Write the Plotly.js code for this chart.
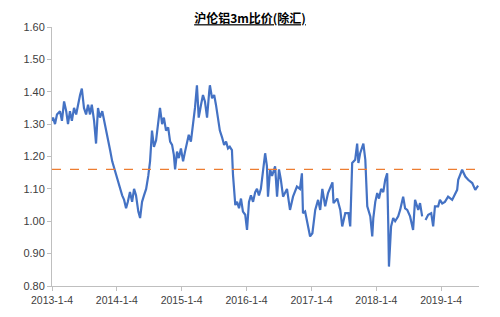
<!DOCTYPE html>
<html>
<head>
<meta charset="utf-8">
<script src="https://cdn.plot.ly/plotly-3.0.1.min.js"></script>
<style>html,body{margin:0;padding:0;background:#fff;}#chart{width:500px;height:317px;}</style>
</head>
<body>
<div id="chart"></div>
<script>
var dates = [
"2013-01-04","2013-01-10","2013-01-21","2013-02-01","2013-02-18","2013-03-01","2013-03-13","2013-03-25","2013-04-04","2013-04-15",
"2013-04-26","2013-05-08","2013-05-20","2013-05-30","2013-06-11","2013-06-21","2013-07-03","2013-07-15","2013-07-26","2013-08-06",
"2013-08-16","2013-08-29","2013-09-09","2013-09-20","2013-10-01","2013-10-14","2013-10-24","2013-11-04","2013-11-15","2013-11-27",
"2013-12-09","2013-12-19","2013-12-31","2014-01-10","2014-01-22","2014-02-03","2014-02-14","2014-02-25","2014-03-07","2014-03-19",
"2014-03-31","2014-04-11","2014-04-22","2014-05-05","2014-05-15","2014-05-26","2014-06-06","2014-06-18","2014-06-30","2014-07-10",
"2014-07-21","2014-08-01","2014-08-13","2014-08-25","2014-09-04","2014-09-16","2014-09-26","2014-10-08","2014-10-20","2014-10-31",
"2014-11-11","2014-11-21","2014-11-28","2014-12-09","2014-12-19","2014-12-31","2015-01-12","2015-01-23","2015-02-03","2015-02-13",
"2015-02-25","2015-03-09","2015-03-20","2015-03-31","2015-04-10","2015-04-23","2015-05-04","2015-05-15","2015-05-27","2015-06-08",
"2015-06-12","2015-06-24","2015-07-06","2015-07-16","2015-07-28","2015-08-07","2015-08-19","2015-08-31","2015-09-11","2015-09-22",
"2015-10-02","2015-10-14","2015-10-20","2015-11-02","2015-11-12","2015-11-23","2015-12-04","2015-12-15","2015-12-28","2016-01-07",
"2016-01-18","2016-01-29","2016-02-10","2016-02-22","2016-03-03","2016-03-14","2016-03-25","2016-04-06","2016-04-18","2016-04-28",
"2016-05-04","2016-05-16","2016-05-27","2016-06-13","2016-06-24","2016-07-05","2016-07-15","2016-07-28","2016-08-08","2016-08-19",
"2016-09-05","2016-09-22","2016-10-14","2016-10-31","2016-11-11","2016-11-17","2016-11-29","2016-12-09","2016-12-27","2017-01-09",
"2017-01-25","2017-02-10","2017-02-22","2017-03-06","2017-03-22","2017-04-07","2017-05-02","2017-05-08","2017-05-29","2017-06-15",
"2017-06-26","2017-07-13","2017-07-31","2017-08-10","2017-08-21","2017-09-07","2017-09-18","2017-09-25","2017-10-05","2017-10-17",
"2017-10-23","2017-11-03","2017-11-08","2017-11-14","2017-12-01","2017-12-12","2017-12-18","2017-12-29","2018-01-09","2018-01-19",
"2018-01-31","2018-02-12","2018-02-23","2018-03-06","2018-03-12","2018-03-16","2018-03-28","2018-04-09","2018-04-20","2018-05-07",
"2018-05-18","2018-06-04","2018-06-15","2018-06-27","2018-07-13","2018-07-30","2018-08-10","2018-08-28","2018-09-07","2018-09-19",
"2018-09-28","2018-10-08","2018-10-23","2018-11-09","2018-11-20","2018-11-30","2018-12-18","2018-12-28","2019-01-10","2019-01-25",
"2019-02-12","2019-03-07","2019-03-25","2019-04-04","2019-04-10","2019-05-02","2019-05-20","2019-06-05","2019-06-28","2019-07-15",
"2019-07-31"
];
var ratio = [
1.31,1.32,1.30,1.33,1.34,1.31,1.37,1.34,1.30,1.34,
1.31,1.35,1.33,1.36,1.39,1.41,1.35,1.33,1.36,1.33,
1.36,1.31,1.24,1.35,1.32,1.34,1.31,1.28,1.25,1.22,
1.185,1.165,1.143,1.12,1.10,1.08,1.066,1.04,1.06,1.09,
1.06,1.10,1.08,1.03,1.01,1.06,1.08,1.10,1.14,1.185,
1.28,1.23,1.25,1.30,1.35,1.30,1.32,1.28,1.29,1.246,
1.236,1.205,1.16,1.215,1.195,1.225,1.185,1.215,1.246,1.267,
1.246,1.298,1.35,1.42,1.32,1.36,1.39,1.37,1.32,1.40,
1.42,1.38,1.39,1.36,1.32,1.28,1.26,1.236,1.246,1.225,
1.23,1.22,1.143,1.05,1.06,1.04,1.07,1.03,1.02,0.973,
1.06,1.08,1.06,1.09,1.10,1.08,1.10,1.15,1.21,1.17,
1.076,1.16,1.14,1.17,1.076,1.16,1.13,1.076,1.09,1.10,
1.035,1.076,1.107,1.10,1.148,1.025,1.03,1.004,0.953,0.963,
1.035,1.066,1.035,1.10,1.046,1.087,1.12,1.056,1.07,1.035,
0.984,1.025,1.025,0.984,1.18,1.19,1.24,1.18,1.21,1.23,
1.24,1.19,1.10,1.046,1.015,0.953,1.01,1.06,1.087,1.07,
1.10,1.09,1.128,1.148,0.994,0.86,0.984,1.01,1.00,1.015,
1.035,1.076,1.04,1.035,1.015,0.973,1.066,1.035,1.056,1.015,
null,1.004,1.02,1.025,0.984,1.046,1.046,1.066,1.055,1.06,
1.076,1.066,1.087,1.097,1.128,1.159,1.138,1.128,1.118,1.097,
1.11
];
var avgLevel = [1.16];
var tickDates = ["2013-01-04","2014-01-04","2015-01-04","2016-01-04","2017-01-04","2018-01-04","2019-01-04"];
var tickLabels = ["2013-1-4","2014-1-4","2015-1-4","2016-1-4","2017-1-4","2018-1-4","2019-1-4"];
var titleText = "沪伦铝3m比价(除汇)";

var traces = [{
  x: dates, y: ratio, type: "scatter", mode: "lines",
  line: {color: "#4472C4", width: 2.2},
  connectgaps: false, hoverinfo: "skip"
}];

var layout = {
  width: 500, height: 317,
  margin: {l: 52, r: 21, t: 27, b: 31},
  paper_bgcolor: "#ffffff", plot_bgcolor: "#ffffff",
  showlegend: false,
  font: {family: "Liberation Sans, Arial, sans-serif", color: "#404040", size: 11},
  title: {
    text: "<b><u>" + titleText + "</u></b>",
    x: 0.5, xanchor: "center", y: 0.94, yanchor: "middle",
    font: {family: "Noto Sans CJK SC, sans-serif", size: 12, color: "#000000"}
  },
  xaxis: {
    type: "date",
    range: ["2013-01-04", "2019-08-05"],
    tickmode: "array", tickvals: tickDates, ticktext: tickLabels,
    showgrid: false, zeroline: false,
    showline: true, linecolor: "#bfbfbf", linewidth: 1,
    ticks: "outside", ticklen: 4, tickcolor: "#bfbfbf",
    tickfont: {size: 10.5, color: "#404040"}
  },
  yaxis: {
    range: [0.8, 1.6],
    tickmode: "linear", tick0: 0.8, dtick: 0.1, tickformat: ".2f",
    showgrid: false, zeroline: false,
    showline: true, linecolor: "#bfbfbf", linewidth: 1,
    ticks: "outside", ticklen: 4, tickcolor: "#bfbfbf",
    tickfont: {size: 11, color: "#404040"}
  },
  shapes: [{
    type: "line", xref: "paper", x0: 0, x1: 1, yref: "y", y0: avgLevel[0], y1: avgLevel[0],
    line: {color: "#ED7D31", width: 1.3, dash: "dash"}
  }]
};

Plotly.newPlot("chart", traces, layout, {staticPlot: true, displayModeBar: false});
</script>
</body>
</html>
